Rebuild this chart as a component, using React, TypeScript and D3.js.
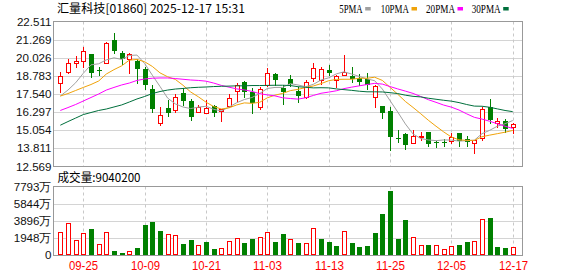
import React from "react";
import * as d3 from "d3";

const titleText = "汇量科技[01860] 2025-12-17 15:31";
const volLabel = "成交量:9040200";
const legendNames = ["5PMA", "10PMA", "20PMA", "30PMA"];
const legendColors = ["#a0a0a0", "#f0a30a", "#ff00ff", "#006f3c"];

const priceTicks = [22.511, 21.269, 20.026, 18.783, 17.54, 16.297, 15.054, 13.811, 12.569];
const volTicks = [7793, 5844, 3896, 1948, 0];
const dateLabels = ["09-25", "10-09", "10-21", "11-03", "11-13", "11-25", "12-05", "12-17"];
const dateIndex = [3, 11, 19, 27, 35, 43, 51, 59];

const opens = [18.27, 19.03, 19.69, 19.78, 20.28, 19.19, 19.69, 21.24, 20.37, 19.96,
  19.82, 19.23, 17.86, 15.57, 16.58, 16.44, 17.63, 17.08, 16.33, 16.26,
  16.72, 16.39, 16.72, 17.77, 18.38, 17.7, 16.63, 18.14, 18.91, 17.93,
  18.55, 17.77, 17.35, 18.62, 18.5, 19.19, 18.5, 18.84, 18.77, 18.62,
  18.55, 17.35, 16.72, 16.39, 14.51, 14.8, 14.2, 14.63, 14.93, 14.25,
  14.27, 14.34, 14.84, 14.43, 14.2, 14.5, 16.63, 15.57, 15.71, 15.25];
const highs = [19.07, 19.92, 20.15, 20.79, 20.3, 19.41, 21.13, 21.74, 20.51, 20.37,
  19.92, 19.41, 18.14, 16.63, 17.13, 17.54, 17.93, 17.17, 16.78, 17.13,
  16.78, 16.49, 17.54, 18.31, 18.45, 17.93, 18.04, 19.3, 19.0, 18.16,
  18.84, 18.04, 18.5, 19.69, 19.37, 19.53, 18.84, 20.21, 19.41, 18.91,
  18.96, 18.16, 16.72, 16.67, 15.07, 14.88, 15.07, 14.95, 14.93, 14.34,
  14.43, 14.88, 14.84, 14.66, 14.39, 16.63, 17.18, 15.87, 15.81, 15.53];
const lows = [17.7, 18.96, 19.41, 19.41, 18.73, 18.84, 19.64, 20.33, 19.6, 18.96,
  18.31, 17.9, 16.33, 15.39, 16.03, 16.33, 16.78, 15.76, 16.3, 16.26,
  16.03, 15.71, 16.63, 17.08, 17.31, 16.22, 16.49, 18.09, 18.16, 16.85,
  18.09, 17.01, 17.24, 18.45, 18.22, 18.84, 18.04, 18.84, 18.38, 18.16,
  17.86, 16.63, 15.87, 13.7, 14.27, 13.75, 14.16, 14.39, 13.97, 13.89,
  13.97, 14.16, 13.97, 13.97, 13.51, 14.39, 15.53, 15.3, 14.95, 14.88];
const closes = [18.77, 19.69, 19.78, 20.51, 18.96, 19.12, 21.02, 20.51, 19.96, 20.28,
  19.27, 18.14, 16.49, 16.12, 16.26, 17.31, 17.08, 15.94, 16.63, 16.56,
  16.26, 16.49, 17.24, 18.14, 17.68, 16.94, 17.86, 18.96, 18.5, 17.7,
  18.22, 17.4, 18.36, 19.3, 19.23, 18.96, 18.77, 19.05, 18.55, 18.38,
  18.16, 18.09, 16.22, 14.61, 14.47, 14.04, 14.66, 14.68, 14.11, 14.23,
  14.25, 14.61, 14.34, 14.25, 14.39, 16.53, 15.76, 15.71, 15.12, 15.46];
// volume in 万
const volumes = [2598, 3693, 1694, 2450, 2937, 1242, 2598, 486, 226, 418,
  790, 3388, 3727, 2711, 2372, 2225, 1276, 1694, 1095, 1468,
  678, 790, 1581, 1886, 1389, 1807, 1999, 2598, 1468, 2372,
  1807, 1389, 1389, 3128, 1807, 1502, 1017, 2677, 1389, 904,
  1017, 2519, 4666, 7262, 1807, 3953, 1999, 1095, 1095, 1095,
  644, 983, 1095, 1468, 1581, 4146, 4258, 904, 790, 904.02];

const ma5 = [17.4, 17.81, 18.31, 18.96, 19.54, 19.61, 19.88, 20.02, 19.91, 20.18,
  20.21, 19.63, 18.83, 18.06, 17.26, 16.86, 16.65, 16.54, 16.64, 16.7,
  16.49, 16.38, 16.64, 16.94, 17.16, 17.3, 17.57, 17.92, 17.99, 17.99,
  18.25, 18.16, 18.04, 18.2, 18.5, 18.65, 18.92, 19.06, 18.91, 18.74,
  18.58, 18.45, 17.88, 17.09, 16.31, 15.49, 14.8, 14.49, 14.39, 14.34,
  14.39, 14.38, 14.31, 14.34, 14.37, 14.82, 15.05, 15.33, 15.5, 15.72];
const ma10 = [17.4, 17.57, 17.78, 17.99, 18.19, 18.43, 18.91, 19.21, 19.47, 19.86,
  19.91, 19.75, 19.43, 18.99, 18.72, 18.54, 18.14, 17.68, 17.35, 16.98,
  16.68, 16.51, 16.59, 16.79, 16.93, 16.9, 16.97, 17.28, 17.46, 17.58,
  17.77, 17.86, 17.98, 18.09, 18.25, 18.45, 18.54, 18.55, 18.55, 18.62,
  18.62, 18.69, 18.47, 18.0, 17.53, 17.03, 16.62, 16.19, 15.74, 15.33,
  14.94, 14.59, 14.4, 14.36, 14.36, 14.61, 14.72, 14.82, 14.92, 15.04];
const ma20 = [16.41, 16.61, 16.82, 17.06, 17.3, 17.54, 17.81, 17.99, 18.16, 18.29,
  18.47, 18.57, 18.62, 18.64, 18.64, 18.6, 18.55, 18.5, 18.47, 18.42,
  18.29, 18.13, 18.01, 17.89, 17.82, 17.72, 17.56, 17.48, 17.41, 17.28,
  17.23, 17.19, 17.28, 17.44, 17.59, 17.67, 17.76, 17.91, 18.01, 18.1,
  18.19, 18.27, 18.22, 18.05, 17.89, 17.74, 17.58, 17.37, 17.15, 16.97,
  16.78, 16.64, 16.44, 16.18, 15.94, 15.82, 15.67, 15.5, 15.33, 15.18];
const ma30 = [15.4, 15.65, 15.89, 16.13, 16.27, 16.41, 16.51, 16.65, 16.79, 16.99,
  17.2, 17.37, 17.57, 17.71, 17.81, 17.88, 17.92, 17.97, 18.0, 18.02,
  18.05, 18.07, 18.08, 18.1, 18.1, 18.12, 18.12, 18.13, 18.14, 18.14,
  18.12, 18.04, 18.0, 17.96, 17.97, 17.96, 17.89, 17.84, 17.79, 17.73,
  17.69, 17.69, 17.68, 17.63, 17.57, 17.46, 17.38, 17.34, 17.25, 17.18,
  17.11, 17.05, 16.95, 16.82, 16.71, 16.7, 16.63, 16.52, 16.41, 16.33];

const UP = "#ff0000";
const DOWN = "#008000";
const FRAME = "#999999";
const GRID = "#d4d4d4";
const LABEL_FONT = "'Liberation Sans', Arial, sans-serif";
const CJK_FONT = "'Noto Sans CJK SC', 'Liberation Sans', sans-serif";

export default function App() {
  const W = 578, H = 276;
  const left = 53.5, right = 522.5;
  const pTop = 21.5, pBot = 166.5;
  const vTop = 186.5, vBot = 255.5;

  const x = d3.scaleLinear().domain([0, 59]).range([60.3, 512.7]);
  const y = d3.scaleLinear().domain([priceTicks[8], priceTicks[0]]).range([pBot, pTop]);
  const vy = d3.scaleLinear().domain([0, volTicks[0]]).range([255, 186.5]);
  const cxOf = (i: number) => Math.round(x(i));

  const mas = [ma5, ma10, ma20, ma30];
  const lineGen = d3.line<number>().x((_, i) => x(i)).y((v) => y(v));

  return (
    <svg width={W} height={H} style={{ position: "absolute", left: 0, top: 0, background: "#fff" }}>
      <rect x={0} y={0} width={W} height={H} fill="#fff" />
      {/* title */}
      <text x={57} y={12.5} fontFamily={CJK_FONT} fontSize={12} fill="#000" textLength={188} lengthAdjust="spacingAndGlyphs">{titleText}</text>
      {/* legend */}
      {legendNames.map((n, i) => {
        const xs = [339.3, 380.7, 426, 471.7][i];
        const ws = [23.4, 28.3, 29, 29][i];
        return (
          <g key={n}>
            <text x={xs} y={12.6} fontFamily="'Liberation Serif', serif" fontSize={11.5} fill="#000" textLength={ws} lengthAdjust="spacingAndGlyphs">{n}</text>
            <rect x={xs + ws + 2.5} y={7} width={5.5} height={3.5} fill={legendColors[i]} />
          </g>
        );
      })}

      {/* price grid */}
      {priceTicks.slice(1, 8).map((t) => (
        <line key={"pg" + t} x1={left} x2={right} y1={Math.round(y(t)) + 0.5} y2={Math.round(y(t)) + 0.5} stroke={GRID} />
      ))}
      {volTicks.slice(1, 4).map((t) => (
        <line key={"vg" + t} x1={left} x2={right} y1={Math.round(vy(t)) + 0.5} y2={Math.round(vy(t)) + 0.5} stroke={GRID} />
      ))}
      {dateIndex.map((di) => (
        <g key={"vd" + di}>
          <line x1={cxOf(di) + 0.5} x2={cxOf(di) + 0.5} y1={pTop} y2={pBot} stroke="#c8c8c8" strokeDasharray="3,3" />
          <line x1={cxOf(di) + 0.5} x2={cxOf(di) + 0.5} y1={vTop} y2={vBot} stroke="#c8c8c8" strokeDasharray="3,3" />
        </g>
      ))}

      {/* frames */}
      <rect x={left} y={pTop} width={right - left} height={pBot - pTop} fill="none" stroke={FRAME} />
      <rect x={left} y={vTop} width={right - left} height={vBot - vTop} fill="none" stroke={FRAME} />

      {/* y labels */}
      {priceTicks.map((t) => (
        <text key={"pl" + t} x={51.5} y={y(t) + 4} textAnchor="end" fontFamily={LABEL_FONT} fontSize={11.6} fill="#111">{t.toFixed(3)}</text>
      ))}
      {volTicks.map((t) => (
        <text key={"vl" + t} x={51.5} y={vy(t) + 4} textAnchor="end" fontFamily={LABEL_FONT} fontSize={11.6} fill="#111">{t === 0 ? "0" : t + "万"}</text>
      ))}

      {/* candles */}
      {opens.map((o, i) => {
        const c = closes[i];
        const cx = cxOf(i);
        const up = c >= o;
        const col = up ? UP : DOWN;
        const top = Math.round(y(Math.max(o, c)));
        const bot = Math.round(y(Math.min(o, c)));
        const h = Math.max(bot - top, 1);
        return (
          <g key={"c" + i}>
            <line x1={cx + 0.5} x2={cx + 0.5} y1={Math.round(y(highs[i]))} y2={Math.round(y(lows[i])) + 1} stroke={col} />
            {up ? (
              <rect x={cx - 1.5} y={top + 0.5} width={4} height={h} fill="#fff" stroke={col} />
            ) : (
              <rect x={cx - 2} y={top} width={5} height={h} fill={col} />
            )}
          </g>
        );
      })}

      {/* moving averages */}
      {mas.map((m, k) => (
        <path key={"ma" + k} d={lineGen(m) || ""} fill="none" stroke={legendColors[k]} strokeWidth={1} />
      ))}

      {/* volume */}
      <text x={57.5} y={181.5} fontFamily={CJK_FONT} fontSize={12} fill="#000" textLength={83} lengthAdjust="spacingAndGlyphs">{volLabel}</text>
      {volumes.map((v, i) => {
        const cx = cxOf(i);
        const up = i === 0 ? true : closes[i] >= closes[i - 1];
        const top = Math.round(vy(v));
        return up ? (
          <rect key={"v" + i} x={cx - 1.5} y={top + 0.5} width={4} height={Math.max(254.5 - (top + 0.5), 1)} fill="#fff" stroke={UP} />
        ) : (
          <rect key={"v" + i} x={cx - 2} y={top} width={5} height={255 - top} fill={DOWN} />
        );
      })}

      {/* x labels */}
      {dateIndex.map((di, k) => (
        <text key={"xl" + di} x={cxOf(di) + 0.5} y={270} textAnchor="middle" fontFamily={LABEL_FONT} fontSize={12} fill="#ff0000" textLength={29} lengthAdjust="spacingAndGlyphs">{dateLabels[k]}</text>
      ))}
    </svg>
  );
}
